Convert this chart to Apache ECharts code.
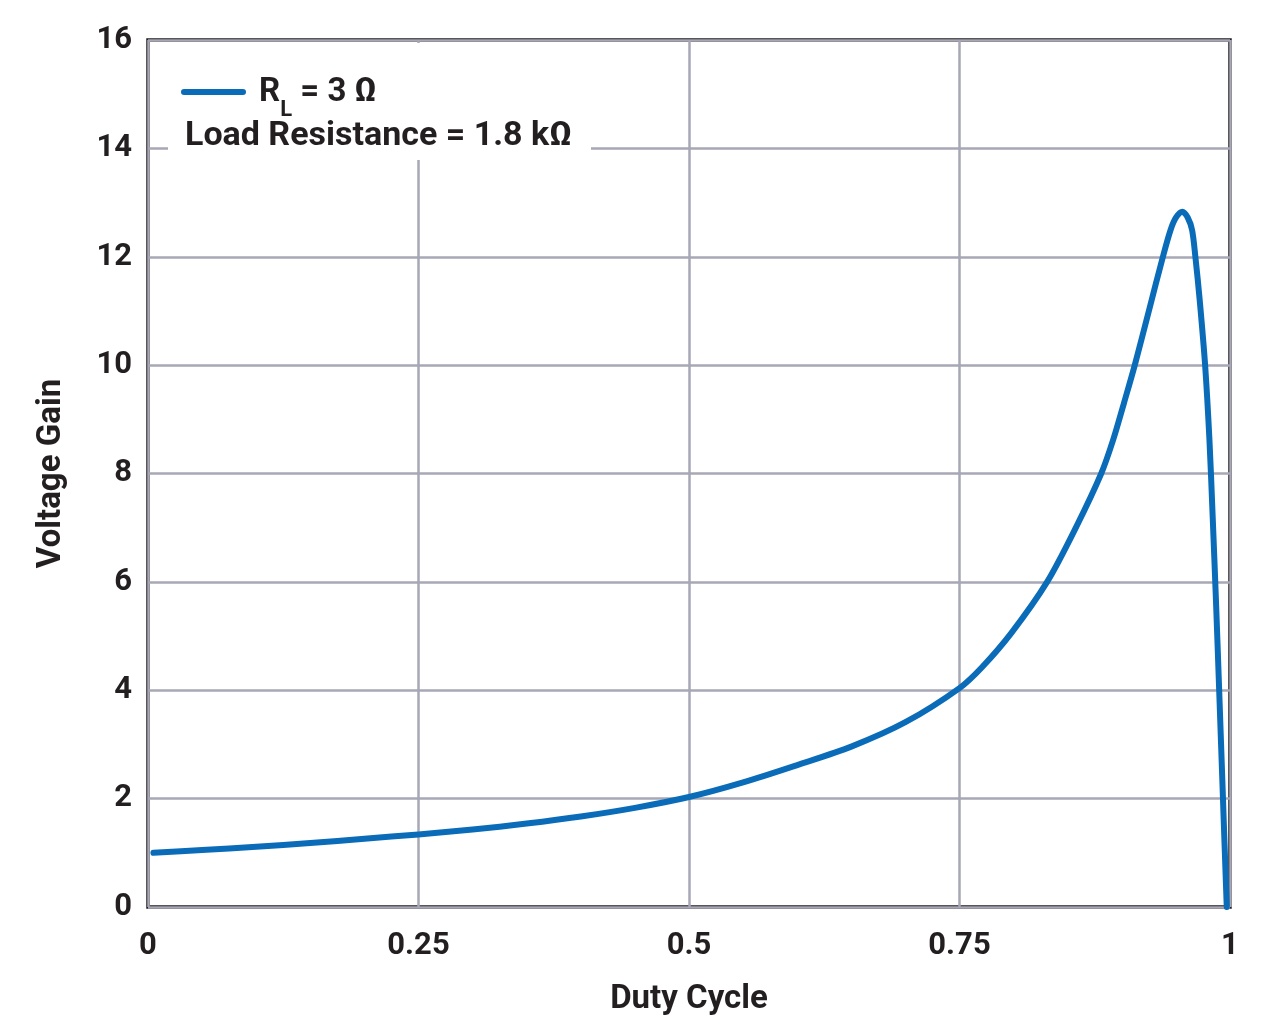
<!DOCTYPE html>
<html>
<head>
<meta charset="utf-8">
<script src="https://cdn.jsdelivr.net/npm/echarts@6/dist/echarts.min.js"></script>
<style>
  html, body { margin: 0; padding: 0; background: #ffffff; }
  #chart { width: 1261px; height: 1034px; }
</style>
</head>
<body>
<div id="chart"></div>
<script>
// Duty cycle (x) and voltage gain (y)
const dutyCycle = [0.005, 0.05, 0.10, 0.15, 0.20, 0.25, 0.30, 0.35, 0.40, 0.45, 0.50, 0.55, 0.60, 0.65, 0.70, 0.75, 0.771, 0.798, 0.831, 0.858, 0.881, 0.892, 0.902, 0.912, 0.925, 0.938, 0.945, 0.950, 0.956, 0.961, 0.965, 0.968, 0.972, 0.977, 0.981, 0.984, 0.987, 0.990, 0.9935, 0.997];
const voltageGain = [1.00, 1.05, 1.11, 1.18, 1.26, 1.34, 1.43, 1.54, 1.67, 1.83, 2.03, 2.30, 2.62, 2.96, 3.41, 4.04, 4.43, 5.06, 6.00, 7.02, 8.00, 8.62, 9.30, 10.00, 11.00, 12.00, 12.49, 12.72, 12.83, 12.72, 12.49, 12.00, 11.20, 10.00, 8.62, 7.20, 5.67, 4.00, 2.00, 0.00];
const xTicks = { min: 0, max: 1, interval: 0.25 };
const yTicks = { min: 0, max: 16, interval: 2 };
const seriesName = 'RL = 3 Ω';
const legendLine1 = ['R', 'L', ' = 3 Ω'];
const legendLine2 = 'Load Resistance = 1.8 kΩ';
const xTitle = 'Duty Cycle';
const yTitle = 'Voltage Gain';

const points = dutyCycle.map((d, i) => [d, voltageGain[i]]);
const FONT = 'Roboto, "Noto Sans", sans-serif';
const BLUE = '#0a6cb8';
const INK = '#231f20';
const GRIDC = '#a7a7b5';

const chart = echarts.init(document.getElementById('chart'));
chart.setOption({
  backgroundColor: '#ffffff',
  animation: false,
  grid: { left: 148, top: 40, width: 1082, height: 867, show: true, borderColor: INK, borderWidth: 3.5, backgroundColor: 'transparent' },
  xAxis: {
    type: 'value', min: xTicks.min, max: xTicks.max, interval: xTicks.interval,
    name: xTitle, nameLocation: 'middle', nameGap: 76,
    nameTextStyle: { fontFamily: FONT, fontWeight: 'bold', fontSize: 33, color: INK },
    axisLine: { show: false }, axisTick: { show: false },
    axisLabel: { margin: 24, fontFamily: FONT, fontWeight: 'bold', fontSize: 31, color: INK },
    splitLine: { show: true, lineStyle: { color: GRIDC, width: 2.5 } }
  },
  yAxis: {
    type: 'value', min: yTicks.min, max: yTicks.max, interval: yTicks.interval,
    name: yTitle, nameLocation: 'middle', nameGap: 80,
    nameTextStyle: { fontFamily: FONT, fontWeight: 'bold', fontSize: 33, color: INK },
    axisLine: { show: false }, axisTick: { show: false },
    axisLabel: { margin: 16, fontFamily: FONT, fontWeight: 'bold', fontSize: 31, color: INK },
    splitLine: { show: true, lineStyle: { color: GRIDC, width: 2.5 } }
  },
  series: [{
    name: seriesName, type: 'line', data: points, smooth: 0.3, symbol: 'none',
    lineStyle: { color: BLUE, width: 6, cap: 'round', join: 'round' }, z: 3
  }],
  graphic: [
    { type: 'rect', z: 50, shape: { x: 168, y: 43, width: 423, height: 117 }, style: { fill: '#ffffff' } },
    { type: 'line', z: 51, shape: { x1: 184, y1: 92, x2: 243, y2: 92 }, style: { stroke: BLUE, lineWidth: 6, lineCap: 'round' } },
    { type: 'text', z: 51, left: 259, top: 76, style: {
        text: '{b|' + legendLine1[0] + '}{s|' + legendLine1[1] + '}{b|' + legendLine1[2] + '}',
        rich: {
          b: { fontFamily: FONT, fontWeight: 'bold', fontSize: 33, fill: INK, verticalAlign: 'bottom', lineHeight: 38 },
          s: { fontFamily: FONT, fontWeight: 'bold', fontSize: 22, fill: INK, verticalAlign: 'bottom', lineHeight: 26, padding: [0, 0, -12, 0] }
        } } },
    { type: 'text', z: 51, left: 185, top: 119, style: { text: legendLine2, fontFamily: FONT, fontWeight: 'bold', fontSize: 34, fill: INK } }
  ]
});
</script>
</body>
</html>
